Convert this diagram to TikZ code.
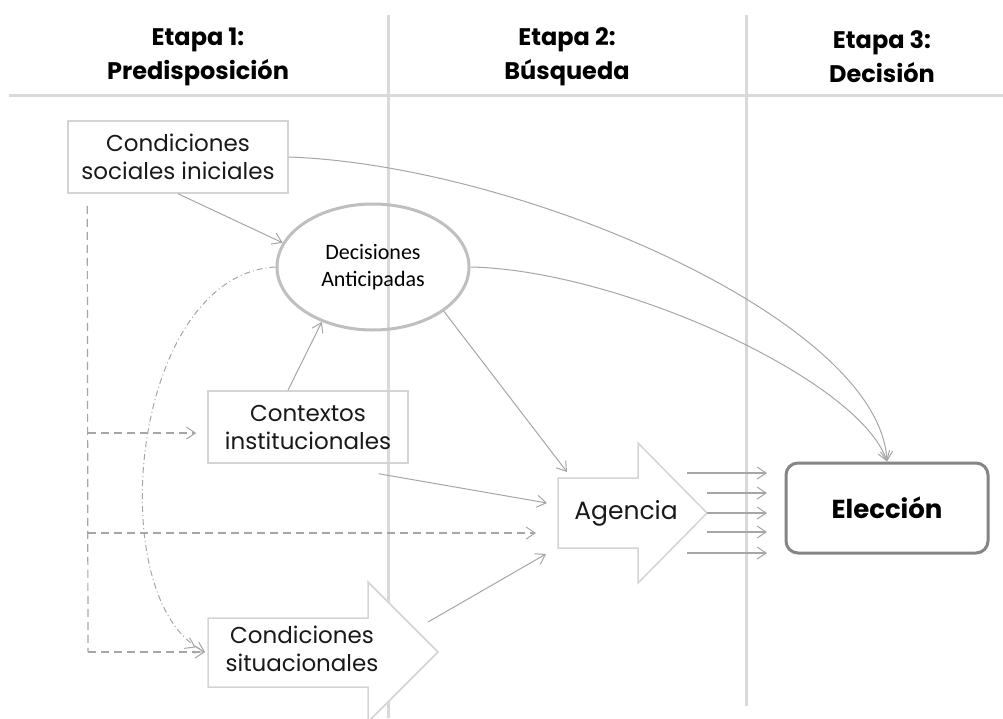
\documentclass[tikz,border=0pt]{standalone}
\usepackage{fontspec}
\setmainfont{Poppins}
\newfontfamily\calib{Carlito}
\usetikzlibrary{arrows.meta,shapes.geometric,calc}
\definecolor{divgray}{HTML}{D9D9D9}
\definecolor{boxgray}{HTML}{D4D4D4}
\definecolor{conn}{HTML}{A6A6A6}
\definecolor{ellgray}{HTML}{BFBFBF}
\definecolor{elecgray}{HTML}{858585}
\begin{document}
\begin{tikzpicture}[x=1pt,y=-1pt,
  divider/.style={draw=divgray,line width=3pt},
  head/.style={font=\fontsize{24}{34}\selectfont\bfseries,align=center,text=black},
  boxnode/.style={draw=boxgray,line width=1.5pt,align=center,inner sep=0pt,
    font=\fontsize{23}{28}\selectfont,text=black!90},
  bodytext/.style={align=center,inner sep=0pt,font=\fontsize{23}{28}\selectfont,text=black!90},
  blockarrow/.style={draw=boxgray,line width=1.5pt,fill=white},
  tip/.style={-{Straight Barb[length=9pt,width=12pt,line width=1pt]}},
  conn/.style={draw=conn,line width=1pt,tip},
  dashconn/.style={draw=conn,line width=1.2pt,dash pattern=on 8pt off 5pt,tip},
  dotconn/.style={draw=conn,line width=1pt,dash pattern=on 6pt off 3pt on 1pt off 3pt,
    -{Straight Barb[length=9pt,width=12pt,line width=1pt]Straight Barb[length=9pt,width=12pt,line width=1pt]}},
  outarrow/.style={draw=conn,line width=1.5pt,tip}
]
\useasboundingbox (0,0) rectangle (1003,718);
\fill[white] (0,0) rectangle (1003,718);

% dividers
\draw[divider] (9,95) -- (1003,95);
\draw[divider] (388,15) -- (388,718);
\draw[divider] (746,15) -- (746,706);

% headers
\node[head] (h1) at (198,57) {Etapa 1:\\Predisposición};
\node[head] (h2) at (567,57) {Etapa 2:\\Búsqueda};
\node[head] (h3) at (882,57) {Etapa 3:\\Decisión};

% nodes
\node[boxnode,minimum width=220pt,minimum height=72pt] (csi) at (178,157)
  {Condiciones\\sociales iniciales};
\node[ellipse,draw=ellgray,line width=3pt,minimum width=192pt,minimum height=126pt,
  align=center,inner sep=0pt,font=\calib\fontsize{22}{27}\selectfont] (dec) at (373,267)
  {Decisiones\\Anticipadas};
\node[boxnode,minimum width=200pt,minimum height=72pt] (cti) at (308,427)
  {Contextos\\institucionales};

% block arrows
\draw[blockarrow] (208,618) -- (368,618) -- (368,582) -- (438,652) -- (368,722)
  -- (368,687) -- (208,687) -- cycle;
\node[bodytext] (csit) at (302,649) {Condiciones\\situacionales};
\draw[blockarrow] (558,478) -- (638,478) -- (638,443) -- (707,513) -- (638,583)
  -- (638,548) -- (558,548) -- cycle;
\node[bodytext,font=\fontsize{25}{28}\selectfont] (ag) at (626,513) {Agencia};

\node[draw=elecgray,line width=3pt,rounded corners=12pt,minimum width=202pt,
  minimum height=90pt,font=\fontsize{26}{30}\selectfont\bfseries] (elec) at (887,508) {Elección};

% anchor coordinates
\coordinate (dashTop) at ($(csi.south west)+(20,12)$);
\coordinate (dashCorner) at (88,652);
\coordinate (dashMid1) at (88,433);
\coordinate (dashMid2) at (88,533);
\coordinate (csitIn) at (205,652);
\coordinate (ctiIn) at ($(cti.west)+(-11,6)$);
\coordinate (agInTop) at (567,472);
\coordinate (agInCti) at (547,503);
\coordinate (agInDash) at (536,533);
\coordinate (agInSit) at (546,554);
\coordinate (ctiOut) at ($(cti.south east)+(-30,10)$);
\coordinate (csitOut) at (428,622);
\coordinate (elecTop) at (elec.north);

% connectors
\draw[conn] (csi.south) -- (dec.165);
\draw[conn] ([xshift=-20pt]cti.north) -- (dec.227);
\draw[conn] (dec.-32) -- (agInTop);
\draw[conn] (ctiOut) -- (agInCti);
\draw[conn] (csitOut) -- (agInSit);
\draw[conn] (csi.east) .. controls (520,165) and (880,320) .. (elecTop);
\draw[conn] (dec.east) .. controls (620,270) and (860,380) .. (elecTop);

% dashed
\draw[draw=conn,line width=1.2pt,dash pattern=on 8pt off 5pt] (dashTop) -- (dashCorner);
\draw[dashconn] (dashCorner) -- (csitIn);
\draw[dashconn] (dashMid1) -- (ctiIn);
\draw[dashconn] (dashMid2) -- (agInDash);
\draw[dotconn] (dec.west) .. controls (130,275) and (100,600) .. (csitIn);

% outgoing arrows
\coordinate (o1s) at (687,473); \coordinate (o1e) at (767,473);
\coordinate (o2s) at (707,493); \coordinate (o2e) at (767,493);
\coordinate (o3s) at (707,513); \coordinate (o3e) at (767,513);
\coordinate (o4s) at (707,532); \coordinate (o4e) at (767,532);
\coordinate (o5s) at (687,553); \coordinate (o5e) at (767,553);
\draw[outarrow] (o1s) -- (o1e);
\draw[outarrow] (o2s) -- (o2e);
\draw[outarrow] (o3s) -- (o3e);
\draw[outarrow] (o4s) -- (o4e);
\draw[outarrow] (o5s) -- (o5e);
\end{tikzpicture}
\end{document}
